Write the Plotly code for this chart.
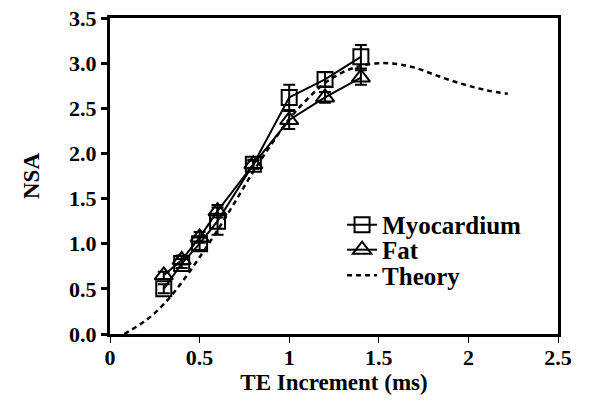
import plotly.graph_objects as go

te = [0.3, 0.4, 0.5, 0.6, 0.8, 1.0, 1.2, 1.4]
myo = [0.50, 0.78, 1.00, 1.25, 1.88, 2.62, 2.82, 3.07]
myo_err = [0.05, 0.05, 0.07, 0.15, 0.05, 0.14, 0.08, 0.13]
fat = [0.65, 0.82, 1.07, 1.36, 1.88, 2.37, 2.62, 2.84]
fat_err = [0.04, 0.05, 0.06, 0.07, 0.04, 0.10, 0.06, 0.08]

theory_x = [0.08, 0.2, 0.3, 0.4, 0.5, 0.6, 0.7, 0.8, 0.9, 1.0, 1.1, 1.2, 1.3,
            1.4, 1.5, 1.6, 1.7, 1.8, 1.9, 2.0, 2.1, 2.22]
theory_y = [0.0, 0.15, 0.33, 0.57, 0.85, 1.15, 1.47, 1.8, 2.1, 2.38, 2.6, 2.78,
            2.9, 2.97, 3.0, 2.99, 2.95, 2.88, 2.81, 2.75, 2.7, 2.66]

xticks = [0, 0.5, 1, 1.5, 2, 2.5]
xtick_text = ["0", "0.5", "1", "1.5", "2", "2.5"]
yticks = [0, 0.5, 1, 1.5, 2, 2.5, 3, 3.5]
ytick_text = ["0.0", "0.5", "1.0", "1.5", "2.0", "2.5", "3.0", "3.5"]

FONT = "Liberation Serif"

fig = go.Figure()
fig.add_trace(go.Scatter(
    x=te, y=myo, name="Myocardium", mode="lines+markers", legend="legend",
    line=dict(color="black", width=2),
    marker=dict(symbol="square-open", size=15, color="black", line=dict(width=2)),
    error_y=dict(type="data", array=myo_err, visible=True, color="black",
                 thickness=2, width=6),
))
fig.add_trace(go.Scatter(
    x=te, y=fat, name="Fat", mode="lines+markers", legend="legend2",
    line=dict(color="black", width=2),
    marker=dict(symbol="triangle-up-open", size=16, color="black", line=dict(width=2)),
    error_y=dict(type="data", array=fat_err, visible=True, color="black",
                 thickness=2, width=6),
))
fig.add_trace(go.Scatter(
    x=theory_x, y=theory_y, name="Theory", mode="lines", legend="legend3",
    line=dict(color="black", width=2.5, dash="5px,4px", shape="spline"),
))

leg_common = dict(
    x=0.518, xanchor="left", yanchor="middle",
    bgcolor="rgba(0,0,0,0)",
    font=dict(family=FONT, size=25, color="black", weight="bold"),
)

fig.update_layout(
    width=590, height=412,
    margin=dict(l=110, r=32, t=18, b=78, autoexpand=False),
    paper_bgcolor="white", plot_bgcolor="white",
    font=dict(family=FONT, size=22, color="black"),
    showlegend=True,
    legend=dict(y=0.345, **leg_common),
    legend2=dict(y=0.266, **leg_common),
    legend3=dict(y=0.185, **leg_common),
    xaxis=dict(
        range=[0, 2.5], tickvals=xticks, ticktext=xtick_text,
        showline=True, linecolor="black", linewidth=3, mirror=True,
        ticks="outside", ticklen=6, tickwidth=1, tickcolor="black",
        showgrid=False, zeroline=False, automargin=False,
        ticklabelstandoff=-4, ticklabeloverflow="allow",
        tickfont=dict(family=FONT, size=22, weight="bold"),
        title=dict(text="<b>TE Increment (ms)</b>", font=dict(family=FONT, size=23),
                   standoff=0),
    ),
    yaxis=dict(
        range=[0, 3.5], tickvals=yticks, ticktext=ytick_text,
        showline=True, linecolor="black", linewidth=3, mirror=True,
        ticks="outside", ticklen=6, tickwidth=3, tickcolor="black",
        showgrid=False, zeroline=False, automargin=False,
        ticklabeloverflow="allow",
        tickfont=dict(family=FONT, size=22, weight="bold"),
        title=dict(text="<b>NSA</b>", font=dict(family=FONT, size=23), standoff=24),
    ),
)

fig.write_html("out.html", config={"displayModeBar": False},
               post_script="document.body.style.margin='0';")
